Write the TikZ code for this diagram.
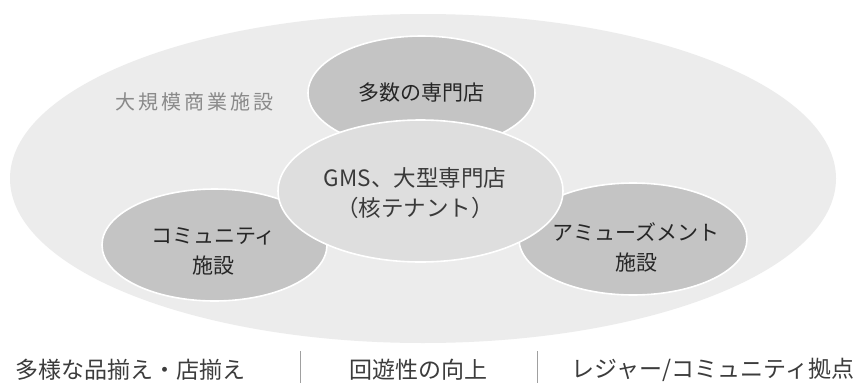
\documentclass[tikz,border=0pt]{standalone}
\usepackage{fontspec}
\setmainfont{Noto Sans CJK JP}
\usetikzlibrary{shapes.geometric}
\definecolor{outerfill}{HTML}{ECECEC}
\definecolor{subfill}{HTML}{C4C4C4}
\definecolor{corefill}{HTML}{DEDEDE}
\definecolor{txtdark}{HTML}{262626}
\definecolor{txtcore}{HTML}{3A3A3A}
\definecolor{txtlight}{HTML}{8A8A8A}
\definecolor{sepcol}{HTML}{A0A0A0}
\tikzset{
  blob/.style={ellipse, inner sep=0pt, outer sep=0pt},
  outerblob/.style={blob, fill=outerfill},
  subblob/.style={blob, fill=subfill, draw=white, line width=1.6pt},
  coreblob/.style={blob, fill=corefill, draw=white, line width=1.6pt},
  lbl/.style={inner sep=0pt, align=center, text=txtdark, font=\fontsize{21}{30}\selectfont},
  corelbl/.style={lbl, text=txtcore, font=\fontsize{22.5}{30}\selectfont},
  biglbl/.style={inner sep=0pt, anchor=west, text=txtlight, font=\fontsize{20}{24}\selectfont\addfontfeature{LetterSpace=15}},
  botlbl/.style={inner sep=0pt, text=txtdark!90!white, font=\fontsize{23}{28}\selectfont},
  sepline/.style={draw=sepcol, line width=1pt}
}
\begin{document}
\begin{tikzpicture}[x=1pt,y=-1pt]
\useasboundingbox (0,0) rectangle (865,383);
\fill[white] (0,0) rectangle (865,383);
% ellipses
\node[outerblob, minimum width=826pt, minimum height=329pt] (outer) at (423,178.5) {};
\node[subblob, minimum width=227pt, minimum height=114pt] (top) at (421.5,93) {};
\node[subblob, minimum width=225pt, minimum height=112pt] (left) at (214.5,245) {};
\node[subblob, minimum width=228pt, minimum height=112pt] (right) at (633,239) {};
\node[coreblob, minimum width=285pt, minimum height=142pt] (core) at (420.5,191) {};
% labels
\node[biglbl] (bigtxt) at (115,102) {大規模商業施設};
\node[lbl] (toptxt) at (421.5,93) {多数の専門店};
\node[lbl] (lefttxt) at (213.5,251) {コミュニティ\\施設};
\node[lbl] (righttxt) at (636,247) {アミューズメント\\施設};
\node[corelbl] (coretxt) at (415,193) {GMS、大型専門店\\（核テナント）};
% bottom
\node[botlbl] (b1) at (131,370) {多様な品揃え・店揃え};
\node[botlbl] (b2) at (418.5,370) {回遊性の向上};
\node[botlbl] (b3) at (713,370) {レジャー/コミュニティ拠点};
\coordinate (s1a) at (300,351);
\coordinate (s1b) at (300,383);
\coordinate (s2a) at (537,351);
\coordinate (s2b) at (537,383);
\draw[sepline] (s1a) -- (s1b);
\draw[sepline] (s2a) -- (s2b);
\end{tikzpicture}
\end{document}
